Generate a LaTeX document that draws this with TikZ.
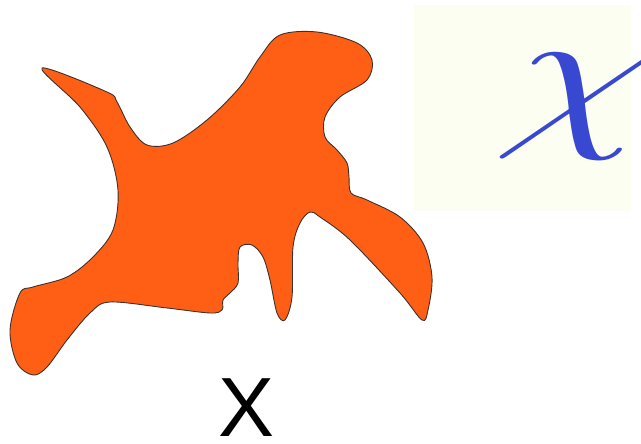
\documentclass[tikz,border=0pt]{standalone}
\usepackage{fontspec}
\usepackage{graphicx}
\newfontfamily\labelfont{Liberation Sans}
\definecolor{blobfill}{RGB}{255,95,20}
\definecolor{blobline}{RGB}{60,50,45}
\definecolor{boxfill}{RGB}{252,254,242}
\definecolor{chiblue}{RGB}{56,72,208}
\begin{document}
\begin{tikzpicture}[x=1pt,y=-1pt,
  blob/.style={fill=blobfill,draw=blobline,line width=0.9pt},
  panel/.style={fill=boxfill,draw=none}]
\useasboundingbox (0,0) rectangle (641,444);
\fill[white] (0,0) rectangle (641,444);
\fill[panel] (414,5) rectangle (631,211);
\node[chiblue,inner sep=0,anchor=center,transform shape,cm={1.34,0,0.27,1,(0,0)}] (chi) at (577,107) {\scalebox{16.8}{$\chi$}};
\draw[blob] plot[smooth cycle,tension=0.55] coordinates {
 (42,68) (107,92) (117,102) (130,127) (147,145) (173,143) (207,120) (240,87)
 (260,57) (280,35) (317,32) (357,43) (372,60) (367,80) (340,97) (325,117)
 (325,137) (337,150) (347,163) (349,177) (351,193) (367,200) (400,217)
 (423,243) (432,277) (428,310) (422,320) (400,293) (350,240) (320,217)
 (310,212) (300,223) (293,247) (292,297) (285,320) (277,313) (270,280)
 (263,257) (252,245) (240,247) (238,263) (238,283) (230,293) (223,300)
 (222,310) (210,313) (167,308) (110,302) (90,313) (67,340) (47,367)
 (33,375) (17,363) (10,330) (20,293) (33,287) (67,277) (93,257) (113,230)
 (118,190) (107,147) (80,107)};
\node[inner sep=0,anchor=base] (xlabel) at (247,436) {\labelfont\fontsize{84}{84}\selectfont X};
\end{tikzpicture}
\end{document}
